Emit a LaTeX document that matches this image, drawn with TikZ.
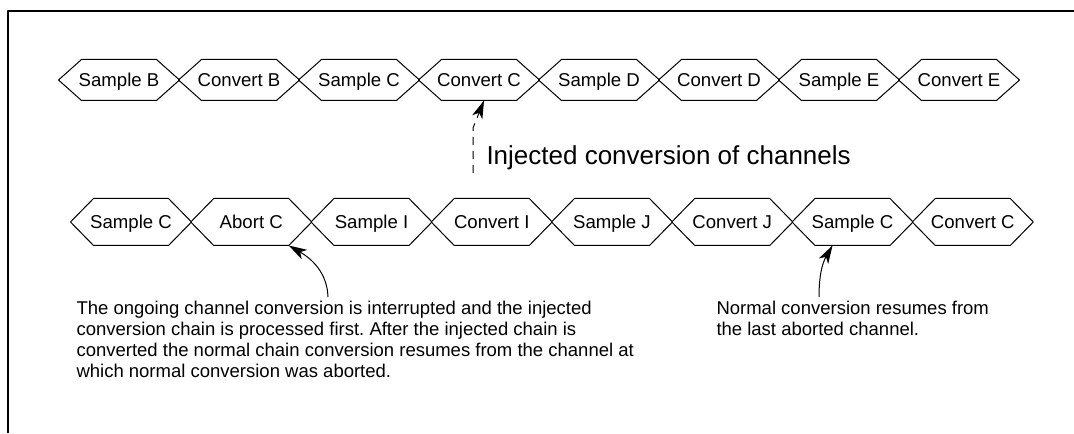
\documentclass[tikz,border=0pt]{standalone}
\usepackage{fontspec}
\setmainfont{Liberation Sans}
\usetikzlibrary{arrows.meta}
\frenchspacing
\begin{document}
\begin{tikzpicture}[x=.5pt,y=.5pt,line join=round,line width=.5pt,>={Stealth[length=9pt,width=5.4pt,inset=2.4pt]},
	hexa/.style={minimum width=60pt,minimum height=#1,inner sep=0pt,text height=6.6pt,text depth=0pt,font=\fontsize{9.3}{11}\selectfont},
	note/.style={anchor=north west,inner sep=0pt,align=left,font=\fontsize{9.25}{10.45}\selectfont}]
	\useasboundingbox (0,0) rectangle (1074,433);
	\draw[line width=1pt] (7.5,0)--(7.5,422)--(1074,422);
	% normal chain
	\foreach \t [count=\i] in {Sample B,Convert B,Sample C,Convert C,Sample D,Convert D,Sample E,Convert E}
	\node[hexa=20pt] (t\i) at ({119+120*(\i-1)},353) {\t};
	% chain with injected conversion
	\foreach \t [count=\i] in {Sample C,Abort C,Sample I,Convert I,Sample J,Convert J,Sample C,Convert C}
	\node[hexa=23pt] (b\i) at ({131+120.25*(\i-1)},211) {\t};
	\foreach \r in {t,b}
	\foreach \i in {1,...,8}
	\draw (\r\i.west)--([xshift=11.5pt]\r\i.north west)--([xshift=-11.5pt]\r\i.north east)--(\r\i.east)
		--([xshift=-11.5pt]\r\i.south east)--([xshift=11.5pt]\r\i.south west)--cycle;
	
	\node[anchor=base west,inner sep=0pt,font=\fontsize{13}{15}\selectfont] (inj) at (486,268) {Injected conversion of channels};
	\coordinate (ds) at (473,260);
	\draw[dash pattern=on 4pt off 3pt,->] (ds)--++(0,45)--([xshift=2.5pt]t4.south);
	
	\node[note] (txa) at (76,132.5) {The ongoing channel conversion is interrupted and the injected\\conversion chain is processed first. After the injected chain is\\converted the normal chain conversion resumes from the channel at\\which normal conversion was aborted.};
	\node[note] (txb) at (716,132.5) {Normal conversion resumes from\\the last aborted channel.};
	\coordinate (na) at (328,136);
	\coordinate (nb) at (819,136);
	\draw[->] (na) to[out=92,in=-30] ([xshift=-11.5pt]b2.south east);
	\draw[->] (nb) to[out=90,in=-120] ([xshift=-10pt]b7.south);
\end{tikzpicture}
\end{document}
